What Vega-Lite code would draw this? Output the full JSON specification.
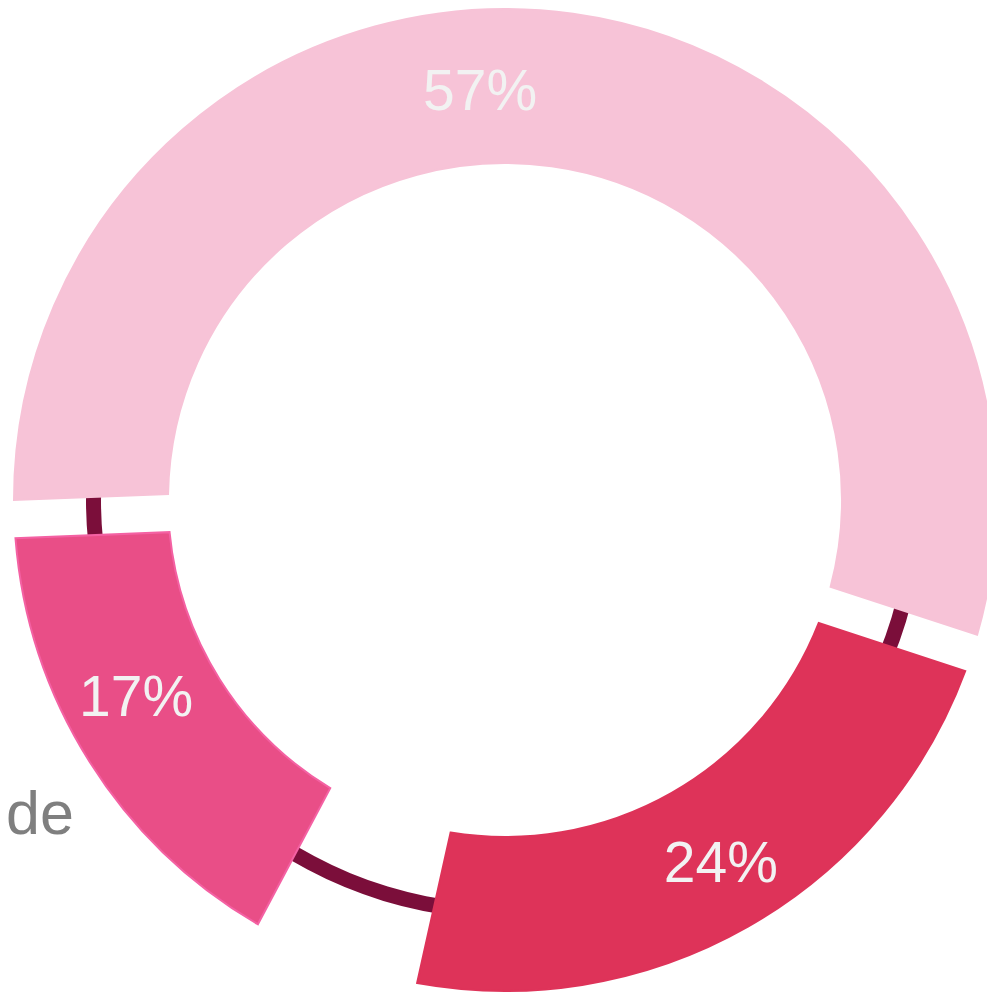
{
  "$schema": "https://vega.github.io/schema/vega-lite/v6.json",
  "width": 1010,
  "height": 1000,
  "autosize": {"type": "none"},
  "padding": 0,
  "background": "white",
  "config": {"view": {"stroke": null}},
  "data": {"values": [
    {"name": "C", "value": 17, "label": "17%", "note": "de", "order": 1},
    {"name": "A", "value": 57, "label": "57%", "note": "", "order": 2},
    {"name": "B", "value": 24, "label": "24%", "note": "", "order": 3}
  ]},
  "layer": [
    {
      "data": {"values": [{"ring": 1}]},
      "mark": {"type": "arc", "innerRadius": 404, "outerRadius": 419, "theta": 0, "theta2": 6.2832, "color": "#7b0e3a"},
      "encoding": {}
    },
    {
      "mark": {"type": "arc", "innerRadius": 337, "outerRadius": 491, "padAngle": 0.064, "strokeWidth": 2},
      "encoding": {
        "theta": {"field": "value", "type": "quantitative", "stack": true, "scale": {"domain": [0, 102.4], "range": [3.6303, 9.9135]}},
        "order": {"field": "order", "type": "quantitative"},
        "color": {"field": "name", "type": "nominal", "scale": {"domain": ["C", "A", "B"], "range": ["#e94e87", "#f7c3d7", "#de3359"]}, "legend": null},
        "stroke": {"field": "name", "type": "nominal", "scale": {"domain": ["C", "A", "B"], "range": ["#f461a3", "#f7c3d7", "#de3359"]}, "legend": null}
      }
    },
    {
      "mark": {"type": "text", "radius": 408, "thetaOffset": -0.2002, "fontSize": 57, "font": "Liberation Sans", "fill": "#f2f2f2", "align": "center", "baseline": "middle"},
      "encoding": {
        "theta": {"field": "value", "type": "quantitative", "stack": true},
        "order": {"field": "order", "type": "quantitative"},
        "text": {"field": "label"},
        "opacity": {"condition": {"test": "datum.name === 'A'", "value": 1}, "value": 0}
      }
    },
    {
      "mark": {"type": "text", "radius": 424, "thetaOffset": -0.0166, "fontSize": 57, "font": "Liberation Sans", "fill": "#f2f2f2", "align": "center", "baseline": "middle"},
      "encoding": {
        "theta": {"field": "value", "type": "quantitative", "stack": true},
        "order": {"field": "order", "type": "quantitative"},
        "text": {"field": "label"},
        "opacity": {"condition": {"test": "datum.name === 'B'", "value": 1}, "value": 0}
      }
    },
    {
      "mark": {"type": "text", "radius": 419, "thetaOffset": 0.0663, "fontSize": 57, "font": "Liberation Sans", "fill": "#f2f2f2", "align": "center", "baseline": "middle"},
      "encoding": {
        "theta": {"field": "value", "type": "quantitative", "stack": true},
        "order": {"field": "order", "type": "quantitative"},
        "text": {"field": "label"},
        "opacity": {"condition": {"test": "datum.name === 'C'", "value": 1}, "value": 0}
      }
    },
    {
      "mark": {"type": "text", "radius": 545, "thetaOffset": -0.098, "fontSize": 61, "font": "Liberation Sans", "fill": "#7f7f7f", "align": "right", "baseline": "alphabetic"},
      "encoding": {
        "theta": {"field": "value", "type": "quantitative", "stack": true},
        "order": {"field": "order", "type": "quantitative"},
        "text": {"field": "note"}
      }
    }
  ]
}
